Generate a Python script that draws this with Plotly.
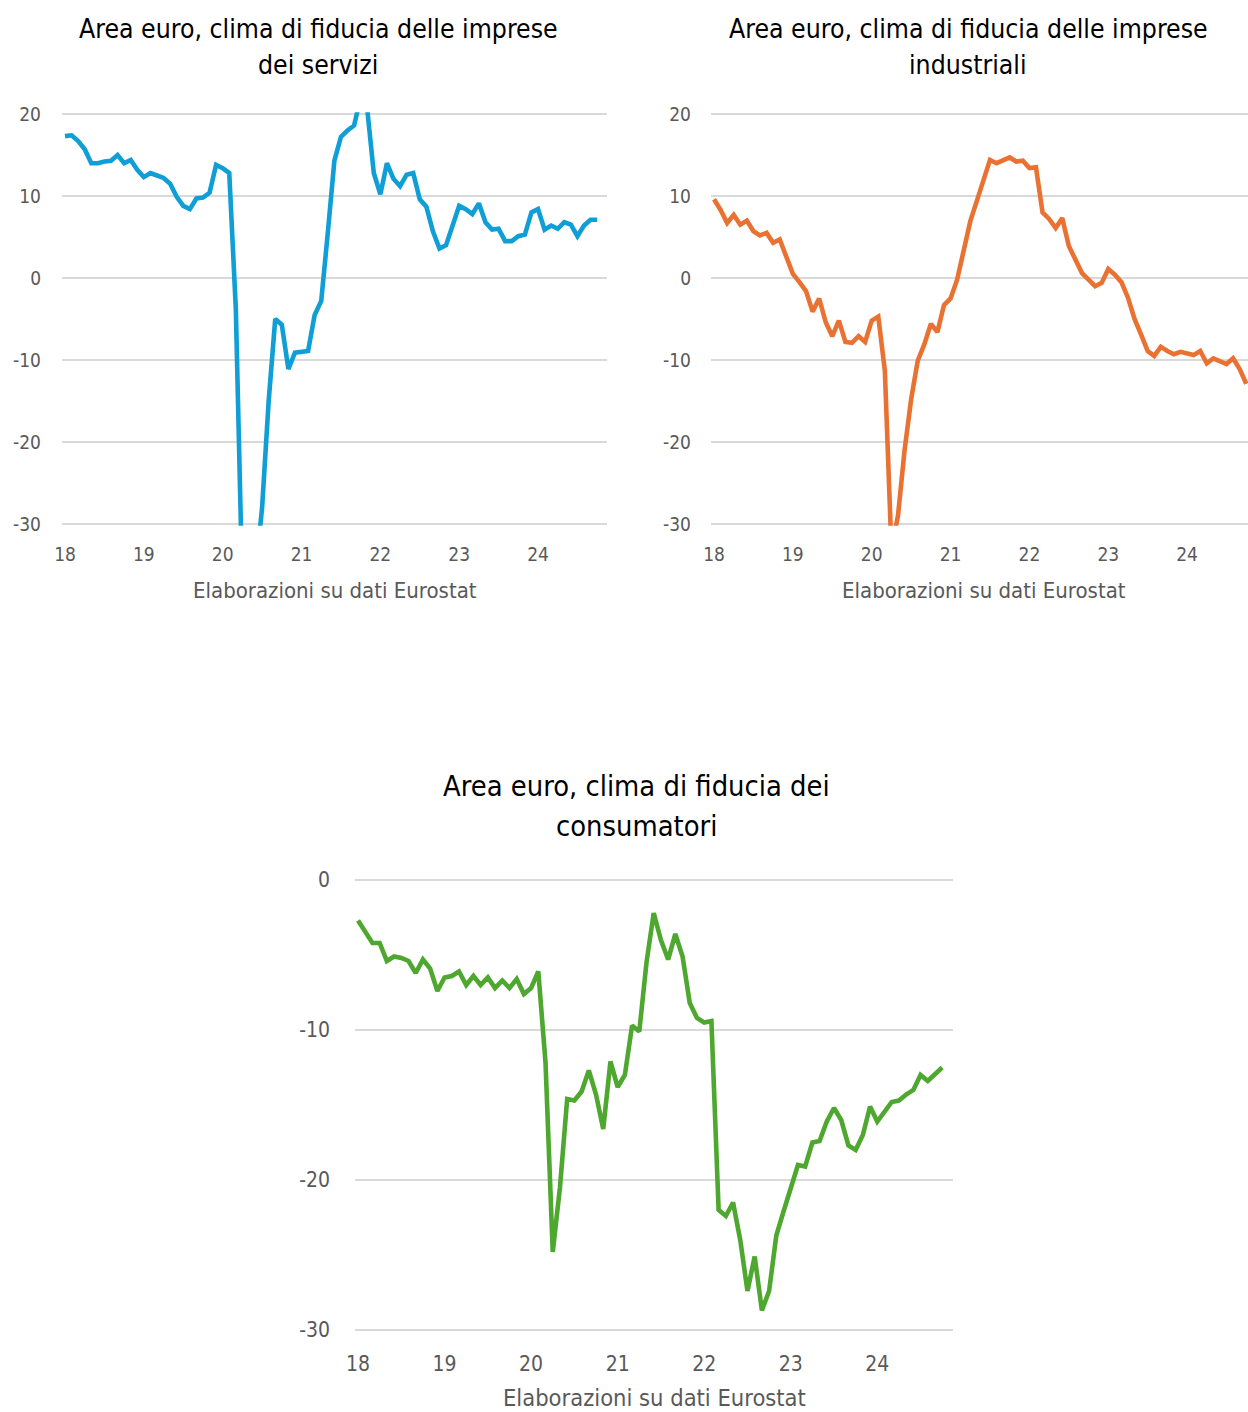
import plotly.graph_objects as go

# ---------------- data ----------------
year_labels = ["18", "19", "20", "21", "22", "23", "24"]
months = list(range(82))  # Jan 2018 .. Oct 2024

servizi = [17.3, 17.4, 16.7, 15.7, 14.0, 14.0, 14.2, 14.3, 15.0, 14.0, 14.4, 13.2,
           12.3, 12.8, 12.5, 12.2, 11.5, 9.9, 8.8, 8.4, 9.7, 9.8, 10.4, 13.8,
           13.4, 12.8, -3.8, -38.0, -44.0, -36.0, -28.0, -15.0, -5.0, -5.7, -11.1, -9.1,
           -9.0, -8.9, -4.5, -2.8, 5.5, 14.3, 17.2, 18.0, 18.6, 22.0, 20.6, 12.8,
           10.2, 14.0, 12.1, 11.2, 12.6, 12.8, 9.6, 8.7, 5.7, 3.6, 4.0, 6.3,
           8.8, 8.4, 7.8, 9.1, 6.8, 5.9, 6.0, 4.5, 4.5, 5.1, 5.3, 8.0,
           8.4, 5.9, 6.4, 6.0, 6.8, 6.5, 5.1, 6.4, 7.1, 7.1]

industria = [9.6, 8.3, 6.7, 7.7, 6.5, 7.0, 5.7, 5.2, 5.5, 4.3, 4.7, 2.5,
             0.5, -0.5, -1.6, -4.1, -2.5, -5.4, -7.1, -5.2, -7.8, -7.9, -7.1, -7.8,
             -5.2, -4.7, -11.3, -33.0, -29.0, -21.0, -14.8, -10.1, -8.1, -5.6, -6.6, -3.3,
             -2.5, -0.2, 3.1, 6.9, 9.4, 12.0, 14.4, 14.0, 14.4, 14.7, 14.2, 14.3,
             13.4, 13.5, 8.0, 7.2, 6.1, 7.3, 3.9, 2.1, 0.6, -0.2, -1.0, -0.6,
             1.1, 0.4, -0.5, -2.4, -5.0, -6.9, -8.9, -9.5, -8.4, -8.9, -9.3, -9.0,
             -9.2, -9.4, -8.9, -10.4, -9.8, -10.2, -10.5, -9.8, -11.1, -12.9]

consumatori = [-2.7, -3.4, -4.2, -4.2, -5.4, -5.1, -5.2, -5.4, -6.2, -5.3, -5.9, -7.4,
               -6.5, -6.4, -6.1, -7.0, -6.4, -7.0, -6.5, -7.2, -6.7, -7.2, -6.6, -7.6,
               -7.2, -6.1, -12.2, -24.8, -20.5, -14.6, -14.7, -14.1, -12.7, -14.3, -16.6, -12.1,
               -13.8, -13.0, -9.7, -10.1, -5.5, -2.2, -4.0, -5.3, -3.6, -5.1, -8.2, -9.2,
               -9.5, -9.4, -22.0, -22.4, -21.5, -24.0, -27.4, -25.1, -28.7, -27.4, -23.7, -22.1,
               -20.6, -19.0, -19.1, -17.5, -17.4, -16.1, -15.2, -16.0, -17.7, -18.0, -17.0, -15.1,
               -16.1, -15.4, -14.8, -14.7, -14.3, -14.0, -13.0, -13.4, -12.9, -12.5]

y_ticks_top = [-30, -20, -10, 0, 10, 20]
y_ticks_bottom = [-30, -20, -10, 0]

titles = [["Area euro, clima di fiducia delle imprese", "dei servizi"],
          ["Area euro, clima di fiducia delle imprese", "industriali"],
          ["Area euro, clima di fiducia dei", "consumatori"]]
source_text = "Elaborazioni su dati Eurostat"

# ---------------- layout helpers ----------------
W, H = 1248, 1412
FONT = "DejaVu Sans Condensed, DejaVu Sans, sans-serif"
TICK_COLOR = "#595959"
GRID = "#d9d9d9"


def px_x(x):
    return x / W


def px_y(y):
    return 1 - y / H


fig = go.Figure()

series = [servizi, industria, consumatori]
colors = ["#0F9ED5", "#E97132", "#4EA72E"]
for i, (s, c) in enumerate(zip(series, colors)):
    fig.add_trace(go.Scatter(
        x=months, y=s, mode="lines",
        line=dict(color=c, width=4.6),
        xaxis="x" if i == 0 else f"x{i+1}",
        yaxis="y" if i == 0 else f"y{i+1}",
        showlegend=False, hoverinfo="skip"))

# plot areas: (x-left px, x-right px, y px of top gridline, y px of bottom gridline)
boxes = [(62, 607, 114, 524), (711, 1248, 114, 524), (355, 953, 880, 1330)]
xranges = [[-0.46, 82.5], [-0.46, 81.27], [-0.42, 82.5]]
yranges = [[-30, 20], [-30, 20], [-30, 0]]
yticks = [y_ticks_top, y_ticks_top, y_ticks_bottom]
tick_fs = [19, 19, 21]
x_standoffs = [15, 15, 17]
y_standoffs = [20, 19, 24]
PAD = 0.2  # value units added so edge gridlines are drawn

layout = dict(width=W, height=H, margin=dict(l=0, r=0, t=0, b=0),
              paper_bgcolor="white", plot_bgcolor="white",
              font=dict(family=FONT, color=TICK_COLOR))

for i in range(3):
    x0, x1, y0, y1 = boxes[i]
    lo, hi = yranges[i]
    ppu = (y1 - y0) / (hi - lo)
    pad = PAD * 8.2 / ppu
    top_px = y0 - pad * ppu
    bot_px = y1 + pad * ppu
    suffix = "" if i == 0 else str(i + 1)
    fs = tick_fs[i]
    layout["xaxis" + suffix] = dict(
        domain=[px_x(x0), px_x(x1)], range=xranges[i], anchor="y" + suffix,
        tickmode="array", tickvals=[12 * k for k in range(len(year_labels))],
        ticktext=year_labels, showgrid=False, zeroline=False, showline=False,
        ticks="", automargin=False,
        tickfont=dict(size=fs, color=TICK_COLOR, family=FONT),
        ticklabelstandoff=x_standoffs[i])
    layout["yaxis" + suffix] = dict(
        domain=[px_y(bot_px), px_y(top_px)], range=[lo - pad, hi + pad],
        anchor="x" + suffix,
        tickmode="array", tickvals=yticks[i], ticktext=[str(v) for v in yticks[i]],
        showgrid=True, gridcolor=GRID, gridwidth=1.6,
        zeroline=False, showline=False, ticks="", automargin=False,
        tickfont=dict(size=fs, color=TICK_COLOR, family=FONT),
        ticklabelstandoff=y_standoffs[i])

fig.update_layout(**layout)

# titles (two lines each) and source captions
title_pos = [(318, 28, 65, 26.4), (968, 28, 65, 26.4), (636, 786, 826, 28.8)]
for (cx, ya, yb, fs), lines in zip(title_pos, titles):
    for yy, txt in zip((ya, yb), lines):
        fig.add_annotation(x=px_x(cx), y=px_y(yy), xref="paper", yref="paper",
                           text=txt, showarrow=False, xanchor="center", yanchor="middle",
                           font=dict(family=FONT, size=fs, color="#000000"))

source_pos = [(335, 590, 22), (984, 590, 22), (654, 1398, 23.5)]
for cx, yy, fs in source_pos:
    fig.add_annotation(x=px_x(cx), y=px_y(yy), xref="paper", yref="paper",
                       text=source_text, showarrow=False, xanchor="center", yanchor="middle",
                       font=dict(family=FONT, size=fs, color=TICK_COLOR))

fig.write_html("out.html",
               post_script="document.body.style.margin='0';document.body.style.padding='0';")
